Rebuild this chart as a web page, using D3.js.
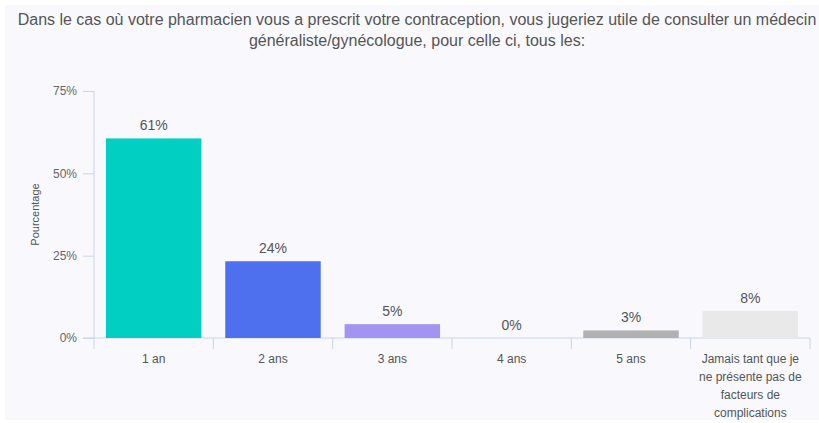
<!DOCTYPE html>
<html>
<head>
<meta charset="utf-8">
<script src="https://cdn.jsdelivr.net/npm/d3@7"></script>
<style>
  body { margin: 0; background: #ffffff; }
  text { font-family: "Liberation Sans", Arial, sans-serif; }
</style>
</head>
<body>
<script>
// chart data
var categories = ["1 an", "2 ans", "3 ans", "4 ans", "5 ans", "Jamais tant que je ne présente pas de facteurs de complications"];
var values = [60.6, 23.3, 4.2, 0, 2.3, 8.2];
var valueLabels = ["61%", "24%", "5%", "0%", "3%", "8%"];
var barColors = ["#00cfc2", "#4e70ef", "#a394f2", "#a394f2", "#b1b1b1", "#e9e9e9"];
var yTicks = [0, 25, 50, 75];
var titleLines = [
    "Dans le cas où votre pharmacien vous a prescrit votre contraception, vous jugeriez utile de consulter un médecin",
    "généraliste/gynécologue, pour celle ci, tous les:"
];
var xLabelLines = [["1 an"], ["2 ans"], ["3 ans"], ["4 ans"], ["5 ans"],
    ["Jamais tant que je", "ne présente pas de", "facteurs de", "complications"]];

var w = 819;
var h = 423;
var plotLeft = 94, plotRight = 810, plotTop = 91, plotBottom = 338;
var axisColor = "#c9d4ee";

var svg = d3.select("body")
    .append("svg")
    .attr("width", w)
    .attr("height", h);

svg.append("rect")
    .attr("x", 5).attr("y", 5)
    .attr("width", w - 5).attr("height", h - 8)
    .attr("fill", "#f8f8fd");

// title
svg.append("g").selectAll("text")
    .data(titleLines)
    .enter()
    .append("text")
    .attr("x", 417)
    .attr("y", function(d, i) { return 25 + i * 21; })
    .attr("text-anchor", "middle")
    .attr("font-size", 16)
    .attr("fill", "#555")
    .text(function(d) { return d; });

// scales
var xScale = d3.scaleBand()
    .domain(categories)
    .range([plotLeft, plotRight])
    .paddingInner(0.2)
    .paddingOuter(0.1);

var yScale = d3.scaleLinear()
    .domain([0, 75])
    .range([plotBottom, plotTop]);

var step = xScale.step();
var gap = (step - xScale.bandwidth()) / 2;

// y axis
var yAxis = svg.append("g")
    .attr("transform", "translate(" + plotLeft + ",0)")
    .call(d3.axisLeft(yScale).tickValues(yTicks).tickSize(11).tickPadding(6)
        .tickFormat(function(d) { return d + "%"; }));
yAxis.select(".domain").remove();
yAxis.selectAll("line").attr("stroke", axisColor);
yAxis.selectAll("text").attr("fill", "#666").attr("font-size", 12)
    .attr("font-family", "Liberation Sans, Arial, sans-serif");

svg.append("line")
    .attr("x1", plotLeft).attr("x2", plotLeft)
    .attr("y1", yScale(75)).attr("y2", plotBottom + 11)
    .attr("stroke", axisColor);

svg.append("text")
    .attr("transform", "translate(39," + yScale(37.5) + ") rotate(-90)")
    .attr("text-anchor", "middle")
    .attr("font-size", 11)
    .attr("fill", "#555")
    .text("Pourcentage");

// x axis
svg.append("line")
    .attr("x1", plotLeft - 11).attr("x2", plotRight)
    .attr("y1", plotBottom).attr("y2", plotBottom)
    .attr("stroke", axisColor);

svg.append("g").selectAll("line")
    .data(categories)
    .enter()
    .append("line")
    .attr("x1", function(d) { return xScale(d) + xScale.bandwidth() + gap; })
    .attr("x2", function(d) { return xScale(d) + xScale.bandwidth() + gap; })
    .attr("y1", plotBottom)
    .attr("y2", plotBottom + 11)
    .attr("stroke", axisColor);

var xLab = svg.append("g").selectAll("text")
    .data(categories)
    .enter()
    .append("text")
    .attr("text-anchor", "middle")
    .attr("font-size", 12)
    .attr("fill", "#555");

xLab.selectAll("tspan")
    .data(function(d, i) {
        return xLabelLines[i].map(function(t) { return { cat: d, t: t }; });
    })
    .enter()
    .append("tspan")
    .attr("x", function(d) { return xScale(d.cat) + xScale.bandwidth() / 2; })
    .attr("y", function(d, i) { return 363 + i * 18; })
    .text(function(d) { return d.t; });

// bars
svg.append("g").selectAll("rect")
    .data(values)
    .enter()
    .append("rect")
    .attr("x", function(d, i) { return xScale(categories[i]); })
    .attr("y", function(d) { return yScale(d); })
    .attr("width", xScale.bandwidth())
    .attr("height", function(d) { return plotBottom - yScale(d); })
    .attr("fill", function(d, i) { return barColors[i]; });

// value labels
svg.append("g").selectAll("text")
    .data(values)
    .enter()
    .append("text")
    .attr("x", function(d, i) { return xScale(categories[i]) + xScale.bandwidth() / 2; })
    .attr("y", function(d) { return yScale(d) - 8; })
    .attr("text-anchor", "middle")
    .attr("font-size", 14)
    .attr("fill", "#555")
    .text(function(d, i) { return valueLabels[i]; });
</script>
</body>
</html>
